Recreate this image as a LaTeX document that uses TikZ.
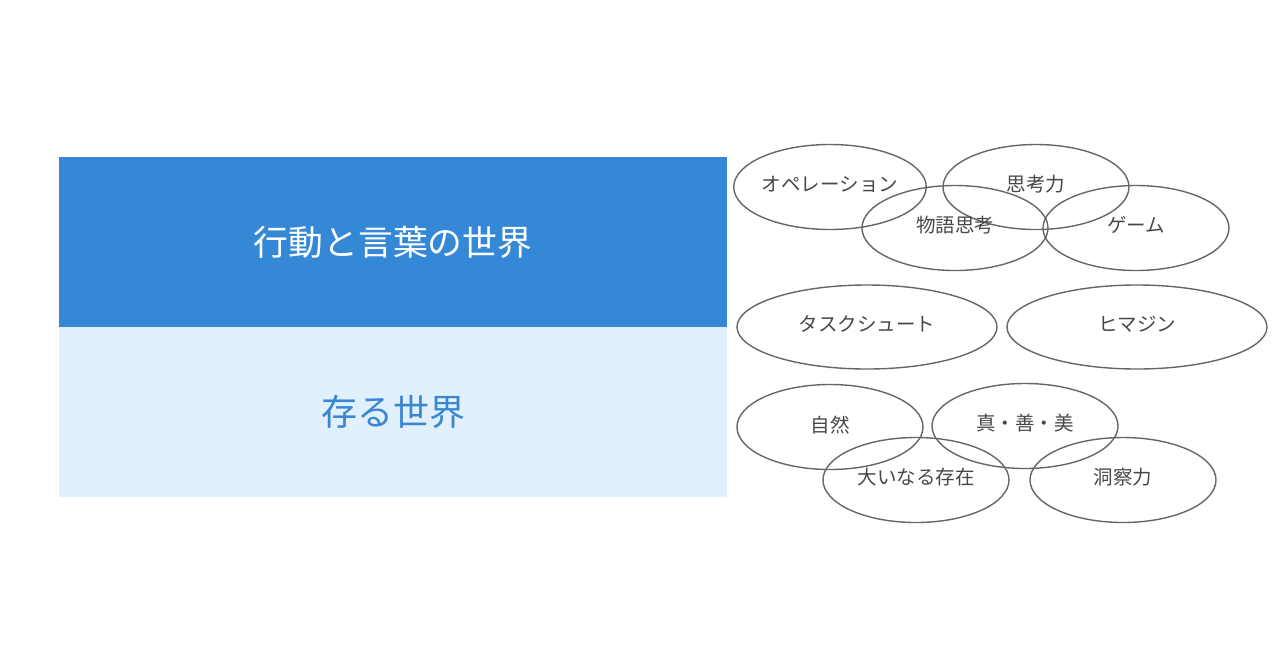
\documentclass[tikz,border=0pt]{standalone}
\usepackage{fontspec}
\setmainfont{Noto Sans CJK JP}
\usetikzlibrary{shapes.geometric}
\definecolor{topblue}{HTML}{3588D6}
\definecolor{paleblue}{HTML}{E0F0FC}
\definecolor{textblue}{HTML}{3A86CF}
\definecolor{ringgray}{HTML}{666666}
\definecolor{labelgray}{HTML}{474747}
\tikzset{
  world/.style={minimum width=668pt, minimum height=170pt, inner sep=0pt, font=\fontsize{34.8}{40}\selectfont},
  ring/.style={ellipse, draw=ringgray, line width=1.4pt, inner sep=0pt, minimum width=186pt, minimum height=85pt, text=labelgray, font=\fontsize{19.5}{23}\selectfont, text depth=0.65em},
  widering/.style={ring, minimum width=260pt, minimum height=84pt}
}
\begin{document}
\begin{tikzpicture}[x=1pt, y=-1pt]
        \useasboundingbox (0,0) rectangle (1280,670);
        \node[world, fill=topblue, text=white] (w0) at (393, 242) {行動と言葉の世界};
        \node[world, fill=paleblue, text=textblue, font=\fontsize{36}{42}\selectfont] (w1) at (393, 412) {存る世界};
        \node[ring] (e0) at (830, 187) {オペレーション};
        \node[ring] (e1) at (1036, 187) {思考力};
        \node[ring] (e2) at (955, 228) {物語思考};
        \node[ring] (e3) at (1136, 228) {ゲーム};
        \node[widering] (e4) at (867, 327) {タスクシュート};
        \node[widering] (e5) at (1137, 327) {ヒマジン};
        \node[ring] (e6) at (830, 427) {自然};
        \node[ring] (e7) at (1025, 426) {真・善・美};
        \node[ring] (e8) at (916, 480) {大いなる存在};
        \node[ring] (e9) at (1123, 480) {洞察力};
        \end{tikzpicture}
\end{document}
